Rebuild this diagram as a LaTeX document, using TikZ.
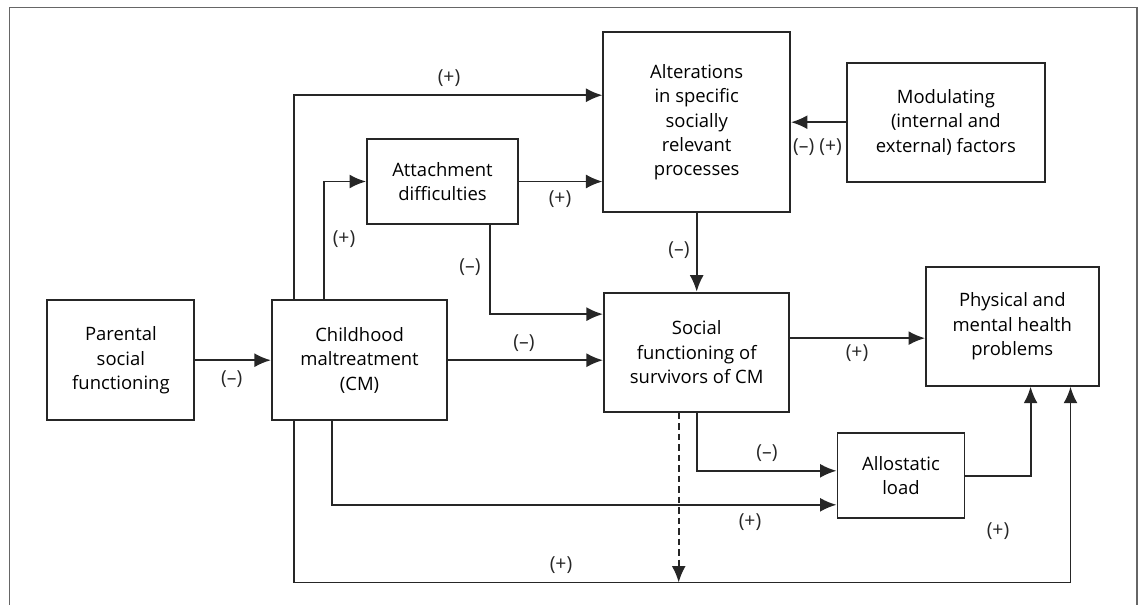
\documentclass[tikz,border=0pt]{standalone}
\usepackage{fontspec}
\setmainfont{Open Sans}
\usetikzlibrary{positioning,calc,arrows.meta}

\begin{document}
\begin{tikzpicture}[
        x=0.2mm, y=-0.2mm,
        node distance=15mm,
        box/.style={draw=black!85, line width=1.1pt, align=center, inner sep=2pt,
                    font=\fontsize{10.5}{13.8}\selectfont},
        sign/.style={inner sep=0pt, font=\fontsize{11}{12}\selectfont, text=black!85},
        link/.style={line width=1.1pt, draw=black!85},
        >={Latex[length=3.3mm,width=2.8mm]}
      ]
      \useasboundingbox (0,0) rectangle (1143,605);
      \draw[draw=black!60, line width=0.9pt] (9.5,605) |- (1136.7,7.5) -- (1136.7,605);
      \node[box, minimum width=29.4mm, minimum height=24.1mm] (parent) at (120.9,360.2)
                   {Parental\\social\\functioning};
      \node[box, minimum width=35.1mm, minimum height=24.1mm] (cm) [right=15.1mm of parent]
                   {Childhood\\maltreatment\\(CM)};
      \node[box, minimum width=30.2mm, minimum height=17mm] (att) at (442.5,181.5)
                   {Attachment\\difficulties};
      \node[box, minimum width=37.3mm, minimum height=36mm] (alt) at (696.7,122.2)
                   {Alterations\\in specific\\socially\\relevant\\processes};
      \node[box, minimum width=39.6mm, minimum height=23.8mm] (mod) [right=11mm of alt]
                   {Modulating\\(internal and\\external) factors};
      \node[box, minimum width=37.1mm, minimum height=23.8mm] (soc) [below=15.7mm of alt]
                   {Social\\functioning of\\survivors of CM};
      \node[box, minimum width=34.5mm, minimum height=23.8mm] (phy) at (1012.3,326.2)
                   {Physical and\\mental health\\problems};
      \node[box, minimum width=25.4mm, minimum height=17mm] (allo) at (901,475.8)
                   {Allostatic\\load};
      \coordinate (low) at (0,582.5);
      \coordinate (hin) at ([xshift=-5.8mm]phy.south east);
      % arrows
      \draw[link, ->] (parent) -- (cm);
      \draw[link, ->] ([xshift=4.6mm]cm.north west) |- ([yshift=-12.8mm]alt.north west);
      \draw[link, ->] ([xshift=10.6mm]cm.north west) |- (att.west);
      \draw[link, ->] (att.east) -- (att.east -| alt.west);
      \draw[link, ->] ([xshift=-5.8mm]att.south east) |- ([yshift=7.6mm]soc.west);
      \draw[link, ->] (cm.east) -- (cm.east -| soc.west);
      \draw[link, ->] (alt.south) -- (soc.north);
      \draw[link, ->] (mod.west) -- (alt.east);
      \draw[link, ->] ([yshift=2.8mm]soc.east) -- ([yshift=2.8mm]soc.east -| phy.west);
      \draw[link, ->] (soc.south) |- ([yshift=1mm]allo.west);
      \draw[link, ->, dash pattern=on 1.3mm off 0.8mm] ([xshift=-3.6mm]soc.south) -- ([xshift=-3.6mm]soc.south |- low);
      \draw[link, ->] ([xshift=12.2mm]cm.south west) |- ([yshift=-5.8mm]allo.west);
      \draw[link, ->] ([xshift=4.6mm]cm.south west) |- (hin |- low) -- (hin);
      \draw[link, ->] (allo.east) -| ([xshift=21.1mm]phy.south west);
      % signs
      \node[sign] (s1)  at (449,78)    {(+)};
      \node[sign] (s2)  at (344,239)   {(+)};
      \node[sign] (s3)  at (560,199)   {(+)};
      \node[sign] (s4)  at (470,267)   {(–)};
      \node[sign] (s5)  at (524,343)   {(–)};
      \node[sign] (s6)  at (679,250)   {(–)};
      \node[sign] (s7)  at (817.5,147) {(–) (+)};
      \node[sign] (s8)  at (231.7,379) {(–)};
      \node[sign] (s9)  at (857,353)   {(+)};
      \node[sign] (s10) at (767,453)   {(–)};
      \node[sign] (s11) at (750,522)   {(+)};
      \node[sign] (s12) at (998,531)   {(+)};
      \node[sign] (s13) at (561,565)   {(+)};
    \end{tikzpicture}
\end{document}
